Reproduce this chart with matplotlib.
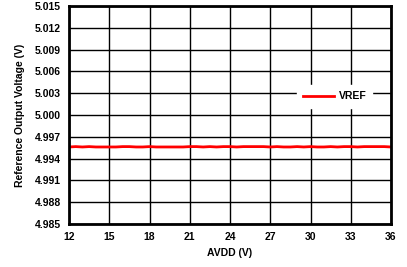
import numpy as np
import matplotlib
matplotlib.use('Agg')
import matplotlib.pyplot as plt

plt.rcParams['font.family'] = ['Liberation Sans', 'DejaVu Sans']
plt.rcParams['font.weight'] = 'bold'

# datos
avdd = [12, 12.5, 13, 13.5, 14, 14.5, 15, 15.5, 16, 16.5, 17, 17.5, 18, 18.5,
        19, 19.5, 20, 20.5, 21, 21.5, 22, 22.5, 23, 23.5, 24, 24.5, 25, 25.5,
        26, 26.5, 27, 27.5, 28, 28.5, 29, 29.5, 30, 30.5, 31, 31.5, 32, 32.5,
        33, 33.5, 34, 34.5, 35, 35.5, 36]
vref = [4.99560, 4.99565, 4.99560, 4.99565, 4.99560, 4.99560, 4.99560, 4.99560,
        4.99565, 4.99565, 4.99560, 4.99560, 4.99565, 4.99560, 4.99560, 4.99560,
        4.99560, 4.99560, 4.99565, 4.99565, 4.99560, 4.99565, 4.99560, 4.99565,
        4.99565, 4.99560, 4.99565, 4.99565, 4.99565, 4.99565, 4.99560, 4.99565,
        4.99560, 4.99560, 4.99565, 4.99560, 4.99565, 4.99560, 4.99560, 4.99565,
        4.99560, 4.99565, 4.99565, 4.99560, 4.99565, 4.99565, 4.99565, 4.99565,
        4.99560]

xticks = [12, 15, 18, 21, 24, 27, 30, 33, 36]
yticks = [4.985, 4.988, 4.991, 4.994, 4.997, 5.000, 5.003, 5.006, 5.009, 5.012, 5.015]

fig = plt.figure(figsize=[4.07, 2.67], dpi=100)
ax = fig.add_axes([69/407, 1 - 224/267, (391-69)/407, (224-6)/267])
ax.plot(avdd, vref, color='#ff0000', linewidth=2.0, label='VREF')
ax.set_xlim(12, 36)
ax.set_ylim(4.985, 5.015)
ax.set_xticks(xticks)
ax.set_yticks(yticks)
ax.set_yticklabels(['%.3f' % v for v in yticks])
ax.grid(True, color='black', linewidth=1.0)
ax.tick_params(length=0, labelsize=7.5, pad=6)
for s in ax.spines.values():
    s.set_linewidth(2.0)
ax.set_xlabel('AVDD (V)', fontsize=7.5, fontweight='bold', labelpad=4)
ax.set_ylabel('Reference Output Voltage (V)', fontsize=7.5, fontweight='bold', labelpad=7)
leg = ax.legend(loc='center', bbox_to_anchor=(0.825, 0.585), frameon=True, fontsize=7.5,
                handlelength=3.0, handletextpad=0.4, borderpad=0.6)
leg.get_frame().set_edgecolor('white')
leg.get_frame().set_alpha(1.0)
leg.get_frame().set_boxstyle('square', pad=0.0)

fig.savefig('out.png', dpi=100)
